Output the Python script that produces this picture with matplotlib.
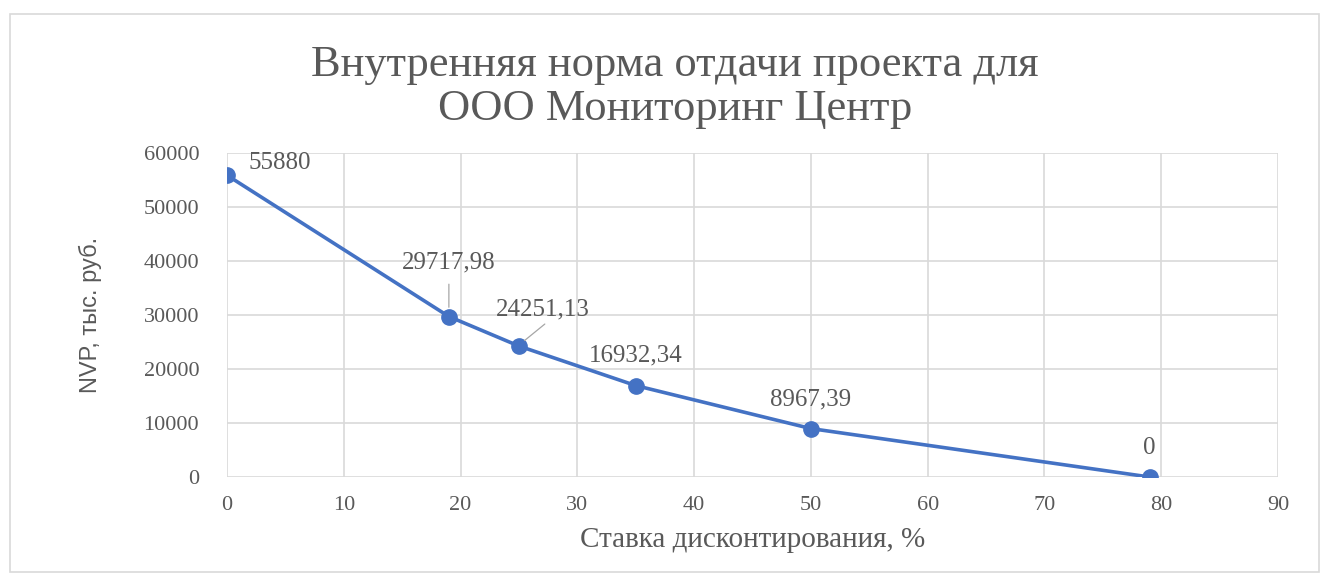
import numpy as np
import matplotlib
matplotlib.use("Agg")
import matplotlib.pyplot as plt

rate = [0, 19, 25, 35, 50, 79]
npv = [55880, 29717.98, 24251.13, 16932.34, 8967.39, 0]
labels = ["55880", "29717,98", "24251,13", "16932,34", "8967,39", "0"]
# label offsets in points (dx, dy)
offs = [(38, 9), (0, 39), (17, 26), (0, 22), (0, 21), (0, 21)]

BLUE = "#4472C4"
GREY = "#595959"

plt.rcParams.update({"font.family": "Liberation Serif"})

W, H = 1327, 580
fig = plt.figure(figsize=(W / 100, H / 100), dpi=100)
ax = fig.add_axes([227 / W, 1 - 477 / H, (1278 - 227) / W, (477 - 153) / H])

ax.plot(rate, npv, "-o", color=BLUE, lw=2.6, ms=11, zorder=3)
for x, y, t, (dx, dy) in zip(rate, npv, labels, offs):
    ax.annotate(t, (x, y), xytext=(dx, dy), textcoords="offset points",
                ha="center", va="center", fontsize=18, color=GREY)
# leader lines
ax.annotate("", (19, 29717.98 + 1200), xytext=(19, 29717.98 + 6500),
            arrowprops=dict(arrowstyle="-", color="#a6a6a6", lw=0.9))
ax.annotate("", (25.3, 24251.13 + 700), xytext=(27.4, 24251.13 + 4400),
            arrowprops=dict(arrowstyle="-", color="#a6a6a6", lw=0.9))

ax.set_xlim(0, 90)
ax.set_ylim(0, 60000)
ax.set_xticks(range(0, 91, 10))
ax.set_yticks(range(0, 60001, 10000))
ax.grid(True, color="#d9d9d9", lw=1.2)
ax.set_axisbelow(True)
for s in ax.spines.values():
    s.set_visible(False)
ax.tick_params(length=0, labelsize=16, colors=GREY)
ax.tick_params(axis="y", pad=20)
ax.tick_params(axis="x", pad=14)

ax.set_xlabel("Ставка дисконтирования, %", fontsize=21, color=GREY, labelpad=8)
ax.set_ylabel("NVP, тыс. руб.", fontsize=17, color=GREY,
              family=["Liberation Sans Narrow", "Liberation Sans"], labelpad=30)

fig.text(675 / W, 1 - 65 / H, "Внутренняя норма отдачи проекта для", ha="center", va="center",
         fontsize=32, color=GREY)
fig.text(675 / W, 1 - 109 / H, "ООО Мониторинг Центр", ha="center", va="center",
         fontsize=32, color=GREY)

border = plt.Rectangle((10 / W, 8 / H), 1 - 18 / W, 1 - 22 / H, transform=fig.transFigure,
                       fill=False, ec="#d9d9d9", lw=1.2)
fig.add_artist(border)

fig.savefig("out.png", dpi=100)
